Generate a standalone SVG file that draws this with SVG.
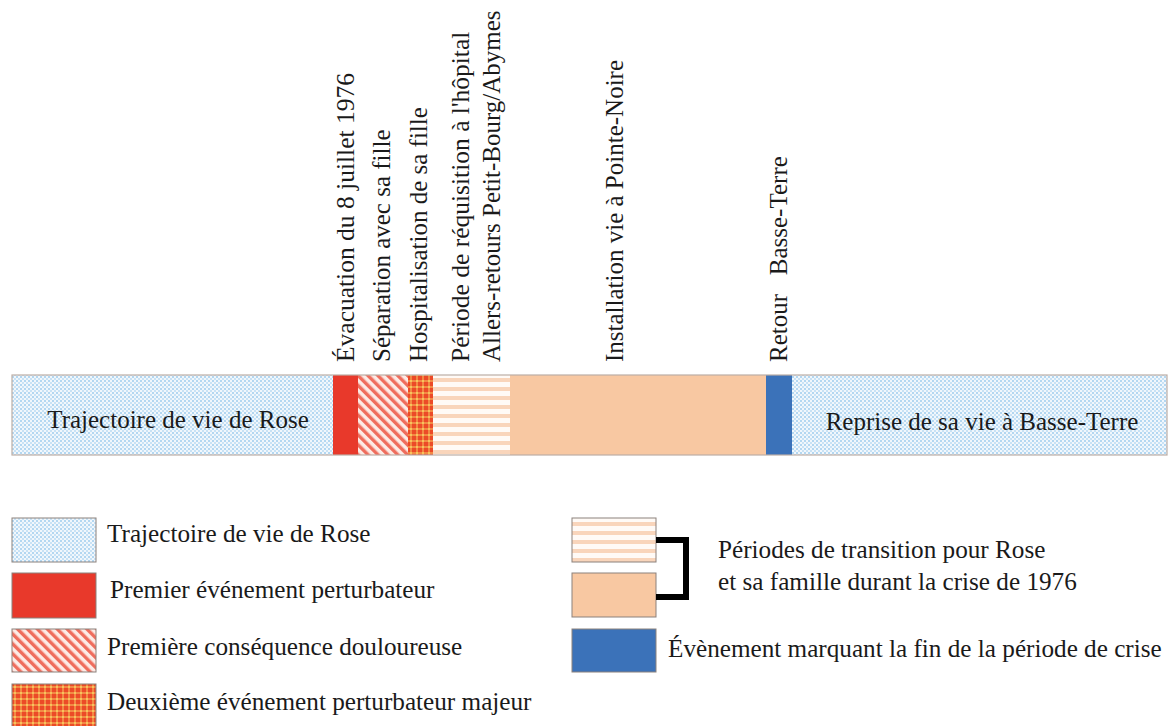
<svg xmlns="http://www.w3.org/2000/svg" width="1173" height="726" viewBox="0 0 1173 726">
<style>
text{font-family:"Liberation Serif","Times New Roman",serif;fill:#1a1a1a;}
.lbl{font-size:25px;}
.leg{font-size:25.2px;}
.vt{font-size:25px;white-space:pre;}
.seg{stroke:none;}
.sw{stroke:#8b817c;stroke-width:1;}
</style>
<defs>
<pattern id="pBlue" patternUnits="userSpaceOnUse" width="4" height="4">
<rect width="4" height="4" fill="#f1f7fc"/>
<rect x="0" y="0" width="2" height="2" fill="#b3d7f1"/>
<rect x="2" y="2" width="2" height="2" fill="#c8e2f5"/>
</pattern>
<pattern id="pHatch" patternUnits="userSpaceOnUse" width="7" height="7" patternTransform="rotate(-45)">
<rect width="7" height="7" fill="#fdebe6"/>
<rect width="3.4" height="7" fill="#ef6d5d"/>
</pattern>
<pattern id="pGrid" patternUnits="userSpaceOnUse" width="6" height="6">
<rect width="6" height="6" fill="#ec4a27"/>
<rect x="0" y="2" width="6" height="2" fill="#f28a45"/>
<rect x="2" y="0" width="2" height="6" fill="#f28a45"/>
<rect x="2" y="2" width="2" height="2" fill="#f7c35c"/>
</pattern>
<pattern id="pStripe" patternUnits="userSpaceOnUse" width="10" height="9">
<rect width="10" height="9" fill="#fffaf6"/>
<rect y="0" width="10" height="4" fill="#f9d5bb"/>
</pattern>
</defs>

<g id="bar">
<rect id="seg-trajectoire" class="seg" x="12" y="375" width="321" height="80" fill="url(#pBlue)"/>
<rect id="seg-evacuation" class="seg" x="333" y="375" width="25" height="80" fill="#e8392b"/>
<rect id="seg-separation" class="seg" x="358" y="375" width="50" height="80" fill="url(#pHatch)"/>
<rect id="seg-hospitalisation" class="seg" x="408" y="375" width="25" height="80" fill="url(#pGrid)"/>
<rect id="seg-requisition" class="seg" x="433" y="375" width="77" height="80" fill="url(#pStripe)"/>
<rect id="seg-installation" class="seg" x="510" y="375" width="256" height="80" fill="#f8c8a2"/>
<rect id="seg-retour" class="seg" x="766" y="375" width="26" height="80" fill="#3b72b9"/>
<rect id="seg-reprise" class="seg" x="792" y="375" width="375" height="80" fill="url(#pBlue)"/>
<rect x="12" y="375" width="1155" height="80" fill="none" stroke="#bcaea6" stroke-width="1.2"/>
<text class="lbl" x="178" y="428" text-anchor="middle">Trajectoire de vie de Rose</text>
<text class="lbl" x="982" y="430" text-anchor="middle">Reprise de sa vie à Basse-Terre</text>
</g>

<g id="vertical-labels">
<text class="vt" style="font-size:25.5px" transform="translate(354,362) rotate(-90)">Évacuation du 8 juillet 1976</text>
<text class="vt" transform="translate(390,362) rotate(-90)">Séparation avec sa fille</text>
<text class="vt" transform="translate(427,362) rotate(-90)">Hospitalisation de sa fille</text>
<text class="vt" style="font-size:25.5px" transform="translate(469,362) rotate(-90)">Période de réquisition à l'hôpital</text>
<text class="vt" transform="translate(500,362) rotate(-90)">Allers-retours Petit-Bourg/Abymes</text>
<text class="vt" transform="translate(623,362) rotate(-90)">Installation vie à Pointe-Noire</text>
<text class="vt" transform="translate(787,362) rotate(-90)">Retour   Basse-Terre</text>
</g>

<g id="legend">
<g id="leg-trajectoire">
<rect class="sw" x="12" y="518" width="84" height="44" fill="url(#pBlue)"/>
<text class="leg" x="107" y="542">Trajectoire de vie de Rose</text>
</g>
<g id="leg-premier">
<rect class="sw" x="12" y="573" width="84" height="45" fill="#e8392b"/>
<text class="leg" x="110" y="598">Premier événement perturbateur</text>
</g>
<g id="leg-consequence">
<rect class="sw" x="12" y="629" width="84" height="43" fill="url(#pHatch)"/>
<text class="leg" x="107" y="655">Première conséquence douloureuse</text>
</g>
<g id="leg-deuxieme">
<rect class="sw" x="12" y="684" width="84" height="44" fill="url(#pGrid)"/>
<text class="leg" x="107" y="710">Deuxième événement perturbateur majeur</text>
</g>
<g id="leg-transition">
<rect class="sw" x="572" y="518" width="84" height="44" fill="url(#pStripe)"/>
<rect class="sw" x="572" y="573" width="84" height="44" fill="#f8c8a2"/>
<text class="leg" x="718" y="558">Périodes de transition pour Rose</text>
<text class="leg" x="718" y="590">et sa famille durant la crise de 1976</text>
</g>
<g id="leg-fin">
<rect class="sw" x="572" y="629" width="84" height="43" fill="#3b72b9"/>
<text class="leg" x="668" y="657">Évènement marquant la fin de la période de crise</text>
</g>
</g>

<g id="connectors">
<path d="M656 540 H686 V597 H656" fill="none" stroke="#000" stroke-width="6"/>
</g>
</svg>
